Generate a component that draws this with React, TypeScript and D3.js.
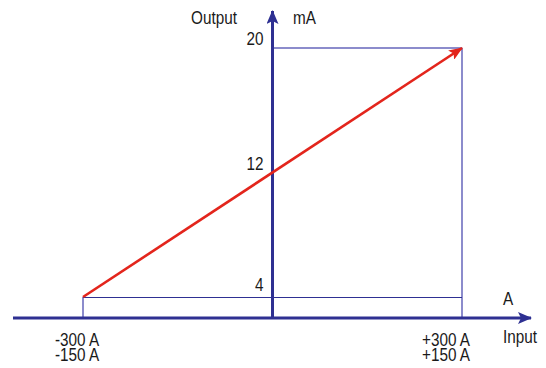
import React from 'react'
import * as d3 from 'd3'

// chart values
const inputPrimary = [-300, 300]
const inputSecondary = [-150, 150]
const outputTicks = [4, 12, 20]
const transfer = [
  { input: -300, output: 4 },
  { input: 300, output: 20 },
]

const W = 546
const H = 368
const navy = '#2e3092'
const pale = '#8c8ccc'
const red = '#e3251c'
const font = "'Liberation Sans', Arial, sans-serif"

// axis extents (pixels)
const axisLeft = 13
const axisRight = 531
const axisBaseY = 318
const axisTopY = 11

const fmtIn = (v: number) => (v > 0 ? `+${v} A` : `${v} A`)

// condensed text: the reference uses a narrow face, so squeeze a regular one
function Label({ x, y, anchor = 'start', children }: { x: number; y: number; anchor?: string; children: React.ReactNode }) {
  return (
    <g transform={`translate(${x},${y}) scale(0.85,1)`}>
      <text textAnchor={anchor}>{children}</text>
    </g>
  )
}

function App() {
  const x = d3.scaleLinear().domain([-300, 300]).range([83, 462])
  const y = d3.scaleLinear().domain([4, 20]).range([297, 48])

  const x0 = x(0)
  const [xMin, xMax] = d3.extent(inputPrimary) as [number, number]
  const [yMin, yMax] = d3.extent(outputTicks) as [number, number]

  const line = d3
    .line<{ input: number; output: number }>()
    .x(d => x(d.input))
    .y(d => y(d.output))

  return (
    <svg
      width={W}
      height={H}
      style={{ position: 'absolute', left: 0, top: 0, background: '#fff' }}
      fontFamily={font}
      fontSize={18}
      fill="#1a1a1a"
    >
      <defs>
        <marker id="blueHead" viewBox="0 0 14 12" refX="13" refY="6" markerWidth="14" markerHeight="12" markerUnits="userSpaceOnUse" orient="auto">
          <path d="M0,0 L14,6 L0,12 L3,6 Z" fill={navy} />
        </marker>
        <marker id="redHead" viewBox="0 0 14 11" refX="13" refY="5.5" markerWidth="14" markerHeight="11" markerUnits="userSpaceOnUse" orient="auto">
          <path d="M0,0 L14,5.5 L0,11 L3,5.5 Z" fill={red} />
        </marker>
      </defs>

      {/* guide lines */}
      <g shapeRendering="crispEdges">
        <line x1={x0} x2={x(xMax)} y1={y(yMax)} y2={y(yMax)} stroke={pale} strokeWidth={1.5} />
        <line x1={x(xMax)} x2={x(xMax)} y1={y(yMax)} y2={axisBaseY} stroke={pale} strokeWidth={1.5} />
        <line x1={x(xMin)} x2={x(xMin)} y1={y(yMin)} y2={axisBaseY} stroke={pale} strokeWidth={1.5} />
        <line x1={x(xMin)} x2={x(xMax)} y1={y(yMin)} y2={y(yMin)} stroke={navy} strokeWidth={1} />
      </g>

      {/* axes */}
      <line x1={axisLeft} x2={axisRight} y1={axisBaseY} y2={axisBaseY} stroke={navy} strokeWidth={3} markerEnd="url(#blueHead)" />
      <line x1={x0} x2={x0} y1={axisBaseY} y2={axisTopY} stroke={navy} strokeWidth={3} markerEnd="url(#blueHead)" />

      {/* transfer line */}
      <path d={line(transfer) || ''} fill="none" stroke={red} strokeWidth={2.6} markerEnd="url(#redHead)" />

      {/* output ticks */}
      {outputTicks.map(t => (
        <Label key={t} x={x0 - 9} y={y(t) - (t === yMin ? 6 : 3)} anchor="end">
          {t}
        </Label>
      ))}

      {/* input labels */}
      {inputPrimary.map((v, i) => {
        const lx = x(v) + (v < 0 ? -28 : -40)
        return (
          <g key={v}>
            <Label x={lx} y={346}>{fmtIn(v)}</Label>
            <Label x={lx} y={361}>{fmtIn(inputSecondary[i])}</Label>
          </g>
        )
      })}

      <Label x={237} y={24} anchor="end">Output</Label>
      <Label x={293} y={24}>mA</Label>
      <Label x={503} y={305}>A</Label>
      <Label x={503} y={343}>Input</Label>
    </svg>
  )
}

export default App
